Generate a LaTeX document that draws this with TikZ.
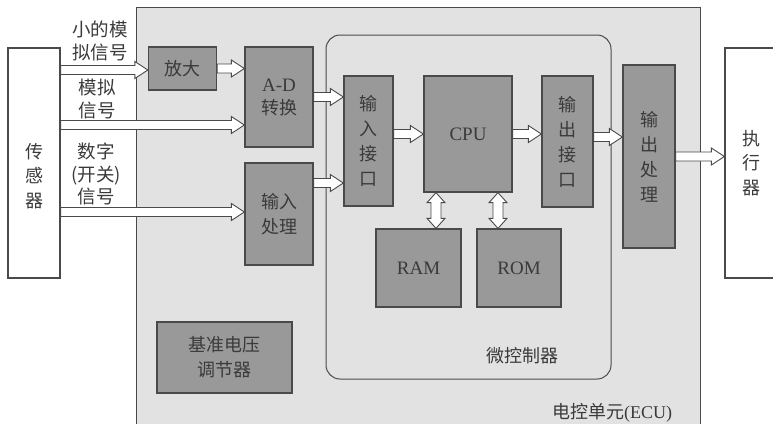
\documentclass[tikz,border=0pt]{standalone}
\usepackage{fontspec}
\setmainfont{Liberation Serif}
\newfontfamily\cjk{Noto Sans CJK SC}
\usepackage{xcolor}
\usetikzlibrary{calc}

\definecolor{panel}{HTML}{E2E2E2}
\definecolor{blockfill}{HTML}{999999}
\definecolor{edge}{HTML}{4A4A4A}
\definecolor{ink}{HTML}{3A3A3A}

% horizontal hollow arrow: height taken from #1, tip at #2
\newcommand\blockarrow[2]{%
  \path[hollow] let \p1=(#1), \p2=(#2) in
    (\x1,{\y1+4.5pt}) -- ({\x2-13pt},{\y1+4.5pt}) -- ({\x2-13pt},{\y1+8.5pt}) -- (\x2,\y1)
    -- ({\x2-13pt},{\y1-8.5pt}) -- ({\x2-13pt},{\y1-4.5pt}) -- (\x1,{\y1-4.5pt}) -- cycle;}

% vertical two-headed hollow arrow from #1 (top) to #2 (bottom)
\newcommand\duplexarrow[2]{%
  \path[hollow] let \p1=(#1), \p2=(#2) in
    (\x1,\y1) -- ({\x1+9pt},{\y1-10pt}) -- ({\x1+5pt},{\y1-10pt}) -- ({\x1+5pt},{\y2+10pt})
    -- ({\x1+9pt},{\y2+10pt}) -- (\x1,\y2) -- ({\x1-9pt},{\y2+10pt}) -- ({\x1-5pt},{\y2+10pt})
    -- ({\x1-5pt},{\y1-10pt}) -- ({\x1-9pt},{\y1-10pt}) -- cycle;}

\begin{document}
\begin{tikzpicture}[
    x=1pt, y=-1pt,
    font=\fontsize{18}{22}\selectfont,
    block/.style={rectangle, draw=edge, fill=blockfill, line width=1.3pt, text=ink, align=center, inner sep=0pt, font=\cjk\fontsize{18}{25}\selectfont},
    plain/.style={rectangle, draw=edge, fill=white, line width=1.2pt, inner sep=0pt},
    boxtext/.style={text=ink, align=center, font=\cjk\fontsize{18}{24.5}\selectfont},
    latin/.style={font=\fontsize{19}{23}\selectfont},
    hollow/.style={draw=edge, fill=white, line width=0.9pt, line join=miter},
    signal/.style={text=ink, align=center, font=\cjk\fontsize{18.5}{22.5}\selectfont}
]
    \useasboundingbox (0,0) rectangle (773,424);

    % ECU panel
    \node[rectangle, fill=panel, inner sep=0pt, minimum width=563, minimum height=416] (ecu) at (418.5,216) {};
    \draw[edge, line width=1pt] (ecu.south west) -- (ecu.north west) -- (ecu.north east) -- (ecu.south east);
    \node[boxtext, anchor=base] (ecuname) at (612,418) {电控单元{\rmfamily(ECU)}};

    % Microcontroller frame
    \node[rectangle, draw=edge, line width=1pt, rounded corners=14pt, minimum width=285, minimum height=344] (mcu) at (468.5,207) {};
    \node[boxtext, anchor=base] (mcuname) at (522,362) {微控制器};

    % Sensor and actuator
    \node[plain, minimum width=52, minimum height=230, label={[boxtext, yshift=-13]center:传\\感\\器}] (sensor) at (34,163) {};
    \node[plain, minimum width=52, minimum height=230, label={[boxtext]center:执\\行\\器}] (actuator) at (751,163) {};

    % Signal labels
    \node[signal] (lblsmall) at (100,41) {小的模\\拟信号};
    \node[signal] (lblanalog) at (97,99) {模拟\\信号};
    \node[signal] (lbldigital) at (96,174) {数字\\(开关)\\信号};

    % ECU blocks
    \node[block, minimum width=68, minimum height=43] (amp) at (182.5,68.5) {放大};
    \node[block, minimum width=68, minimum height=100] (ad) at (279,97) {{\rmfamily\fontsize{19}{22}\selectfont A-D}\\[-2pt]转换};
    \node[block, minimum width=68, minimum height=102] (inproc) at (279,214) {输入\\处理};
    \node[block, minimum width=49, minimum height=130] (inif) at (368.5,141) {输\\入\\接\\口};
    \node[block, latin, minimum width=88, minimum height=116, text depth=-8pt] (cpu) at (468,134) {CPU};
    \node[block, minimum width=51, minimum height=131] (outif) at (567.5,141.5) {输\\出\\接\\口};
    \node[block, minimum width=52, minimum height=183] (outproc) at (649,156.5) {输\\出\\处\\理};
    \node[block, latin, minimum width=85, minimum height=78] (ram) at (418.5,268) {RAM};
    \node[block, latin, minimum width=84, minimum height=78] (rom) at (519,268) {ROM};
    \node[block, minimum width=135, minimum height=71] (vref) at (224.5,357.5) {基准电压\\调节器};

    % Signal heights
    \coordinate (sigsmall) at (0,70);
    \coordinate (siganalog) at (0,125);
    \coordinate (sigdigital) at (0,212);
    \coordinate (sigcode) at (0,183);
    \coordinate (sigout) at (0,137);
    \coordinate (ramlink) at (436,0);
    \coordinate (romlink) at (498,0);

    % Arrows
    \blockarrow{sensor.east |- sigsmall}{amp.west}
    \blockarrow{sensor.east |- siganalog}{ad.west}
    \blockarrow{sensor.east |- sigdigital}{inproc.west}
    \blockarrow{amp.east}{ad.west}
    \blockarrow{ad.east}{inif.west}
    \blockarrow{inproc.east |- sigcode}{inif.west}
    \blockarrow{inif.east |- cpu.west}{cpu.west}
    \blockarrow{cpu.east}{outif.west}
    \blockarrow{outif.east |- sigout}{outproc.west}
    \blockarrow{outproc.east}{actuator.west}
    \duplexarrow{cpu.south -| ramlink}{ram.north -| ramlink}
    \duplexarrow{cpu.south -| romlink}{rom.north -| romlink}
\end{tikzpicture}
\end{document}
